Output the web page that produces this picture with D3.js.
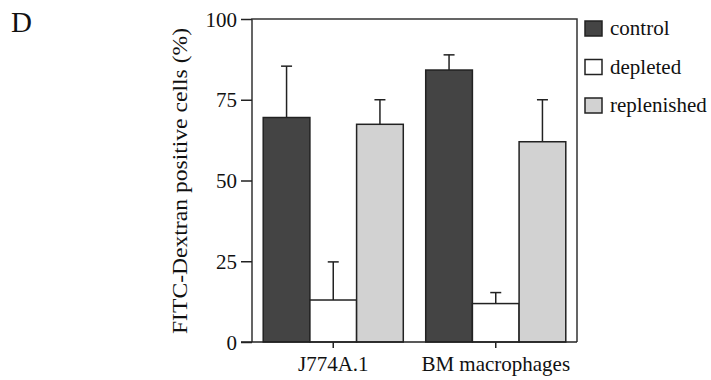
<!DOCTYPE html>
<html><head><meta charset="utf-8">
<script src="https://cdn.jsdelivr.net/npm/d3@7"></script>
<style>body{margin:0;background:#fff}svg{display:block}svg text{font-family:"Liberation Serif","Times New Roman",serif !important;fill:#111}</style>
</head><body><svg id="c" width="711" height="380"></svg>
<script>
const categories = ["J774A.1", "BM macrophages"];
const seriesNames = ["control", "depleted", "replenished"];
const seriesColors = ["#444444", "#ffffff", "#d2d2d2"];
const control = [69.5, 84.2];
const controlErr = [15.9, 4.7];
const depleted = [13.0, 11.9];
const depletedErr = [11.8, 3.4];
const replenished = [67.4, 62.0];
const replenishedErr = [7.6, 13.0];
const yTicks = [0, 25, 50, 75, 100];

const FONT = '"Liberation Serif", "Times New Roman", serif';
const values = [control, depleted, replenished];
const errs = [controlErr, depletedErr, replenishedErr];
const svg = d3.select("#c");
const L = 252, R = 577, T = 19, B = 342;
const x = d3.scaleBand().domain(categories).range([L, R]).paddingInner(0.138).paddingOuter(0.069);
const xs = d3.scaleBand().domain(seriesNames).range([0, x.bandwidth()]);
const y = d3.scaleLinear().domain([0, 100]).range([B, T]);
const stroke = "#222";

const data = [];
categories.forEach((c, i) => seriesNames.forEach((s, j) => data.push({c, s, j, v: values[j][i], e: errs[j][i]})));

// error bars (upwards)
const eg = svg.append("g").attr("stroke", stroke).attr("stroke-width", 1.5);
data.forEach(d => {
  const cx = x(d.c) + xs(d.s) + xs.bandwidth() / 2;
  eg.append("line").attr("x1", cx).attr("x2", cx).attr("y1", y(d.v)).attr("y2", y(d.v + d.e));
  eg.append("line").attr("x1", cx - 5.5).attr("x2", cx + 5.5).attr("y1", y(d.v + d.e)).attr("y2", y(d.v + d.e));
});
// bars
svg.append("g").selectAll("rect").data(data).join("rect")
  .attr("x", d => x(d.c) + xs(d.s)).attr("width", xs.bandwidth())
  .attr("y", d => y(d.v)).attr("height", d => y(0) - y(d.v))
  .attr("fill", d => seriesColors[d.j]).attr("stroke", stroke).attr("stroke-width", 1.5);

// frame
svg.append("path").attr("d", `M${L},${B}V${T}H${R}V${B}`).attr("fill", "none").attr("stroke", "#333").attr("stroke-width", 1.5);

// y axis
const ya = svg.append("g").attr("transform", `translate(${L},0)`)
  .call(d3.axisLeft(y).tickValues(yTicks).tickSize(11).tickPadding(4));
ya.attr("font-family", FONT).attr("font-size", 21);
ya.select(".domain").remove();
ya.selectAll("line").attr("stroke", stroke).attr("stroke-width", 1.5);
ya.selectAll("text").style("font-family", FONT).style("font-size", "21px").attr("fill", "#111").attr("dy", "0.34em");

// x axis
const xa = svg.append("g").attr("transform", `translate(0,${B})`)
  .call(d3.axisBottom(x).tickSize(6).tickPadding(8));
xa.attr("font-family", FONT).attr("font-size", 21);
xa.select(".domain").attr("d", `M${L - 11},0H${R}`).attr("stroke", stroke).attr("stroke-width", 1.5);
xa.selectAll("line").attr("stroke", stroke).attr("stroke-width", 1.5);
xa.selectAll("text").style("font-family", FONT).style("font-size", "21px").attr("fill", "#111");

// y label
svg.append("text").attr("transform", `translate(187,181) rotate(-90)`)
  .attr("text-anchor", "middle").style("font-family", FONT).style("font-size", "22px")
  .attr("textLength", 306).attr("lengthAdjust", "spacingAndGlyphs")
  .text("FITC-Dextran positive cells (%)");

// panel letter
svg.append("text").attr("x", 11).attr("y", 32).style("font-family", FONT).style("font-size", "29px").text("D");

// legend
const lg = svg.append("g");
seriesNames.forEach((s, j) => {
  const yy = 21 + j * 38.5;
  lg.append("rect").attr("x", 585).attr("y", yy).attr("width", 17).attr("height", 15)
    .attr("fill", seriesColors[j]).attr("stroke", stroke).attr("stroke-width", 1.5);
  lg.append("text").attr("x", 610).attr("y", yy + 14).style("font-family", FONT).style("font-size", "21px").text(s);
});
</script></body></html>
